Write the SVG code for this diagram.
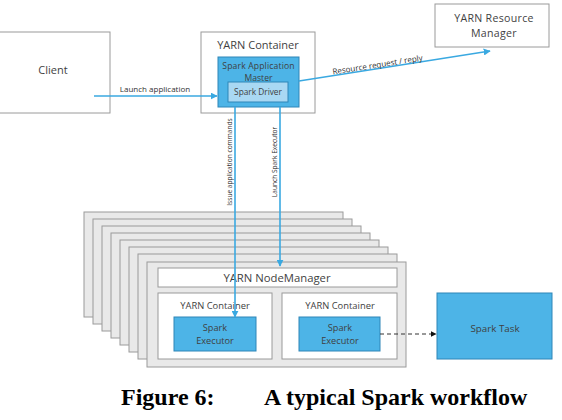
<svg xmlns="http://www.w3.org/2000/svg" width="562" height="420" viewBox="0 0 562 420">
<style>
.box{fill:#fff;stroke:#9a9a9a;stroke-width:1}
.nm{fill:#e9e9e9;stroke:#9a9a9a;stroke-width:1}
.blue{fill:#4db4e7;stroke:#2f86b8;stroke-width:1}
.lblue{fill:#a9d8f3;stroke:#2f86b8;stroke-width:1}
.t{font-family:"Open Sans","Noto Sans",sans-serif;fill:#3f3f3f;text-anchor:middle}
.s{font-family:"Open Sans","Noto Sans",sans-serif;fill:#333;text-anchor:middle}
.c{stroke:#3aa9e1;stroke-width:1.6;fill:none}
.cap{font-family:"Liberation Serif","Times New Roman",serif;font-weight:bold;font-size:24px;fill:#000}
</style>
<defs>
<marker id="ah" viewBox="0 0 10 10" refX="9" refY="5" markerWidth="7" markerHeight="7" markerUnits="userSpaceOnUse" orient="auto"><path d="M0,0L10,5L0,10z" fill="#3aa9e1"/></marker>
<marker id="ahd" viewBox="0 0 10 10" refX="9" refY="5" markerWidth="6" markerHeight="6" markerUnits="userSpaceOnUse" orient="auto"><path d="M0,0L10,5L0,10z" fill="#111"/></marker>
</defs>
<g id="client"><rect class="box" x="-1" y="32" width="111" height="81"/><text class="t" x="53" y="74" font-size="11">Client</text></g>
<g id="yarn-container-top"><rect class="box" x="201" y="32" width="114" height="81"/><text class="t" x="258" y="49" font-size="11">YARN Container</text>
<g id="app-master"><rect class="blue" x="218" y="57" width="81" height="50"/><text class="t" x="258.5" y="69" font-size="8.6" letter-spacing="0.15">Spark Application</text><text class="t" x="258.5" y="80.5" font-size="8.6">Master</text></g>
<g id="driver"><rect class="lblue" x="228" y="82" width="60" height="20"/><text class="t" x="258" y="95" font-size="8.3">Spark Driver</text></g></g>
<g id="resource-manager"><rect class="box" x="435" y="4" width="114" height="43"/><text class="t" x="494" y="22" font-size="10.6" letter-spacing="0.3">YARN Resource</text><text class="t" x="494" y="36.5" font-size="10.6" letter-spacing="0.3">Manager</text></g>
<g id="node-stack">
<rect class="nm" x="84" y="212" width="259" height="105"/>
<rect class="nm" x="93" y="219" width="259" height="105"/>
<rect class="nm" x="102" y="226" width="259" height="105"/>
<rect class="nm" x="111" y="233" width="259" height="105"/>
<rect class="nm" x="120" y="240" width="259" height="105"/>
<rect class="nm" x="129" y="247" width="259" height="105"/>
<rect class="nm" x="138" y="254" width="259" height="105"/>
<rect class="nm" x="147" y="262" width="259" height="105"/>
</g>
<g id="nodemanager"><rect class="box" x="158" y="268" width="239" height="19"/><text class="t" x="277" y="282" font-size="11.3">YARN NodeManager</text></g>
<g id="container-left"><rect class="box" x="158" y="293" width="114" height="66"/><text class="t" x="215" y="309" font-size="9.4">YARN Container</text>
<g id="executor-left"><rect class="blue" x="174" y="317" width="82" height="34"/><text class="t" x="215" y="331" font-size="9.2">Spark</text><text class="t" x="215" y="343.5" font-size="9.2">Executor</text></g></g>
<g id="container-right"><rect class="box" x="282" y="293" width="115" height="66"/><text class="t" x="340" y="309" font-size="9.4">YARN Container</text>
<g id="executor-right"><rect class="blue" x="299" y="317" width="81" height="34"/><text class="t" x="340" y="331" font-size="9.2">Spark</text><text class="t" x="340" y="343.5" font-size="9.2">Executor</text></g></g>
<g id="spark-task"><rect class="blue" x="437" y="293" width="115" height="66"/><text class="t" x="495" y="332" font-size="9.8">Spark Task</text></g>
<g id="connectors">
<line class="c" x1="94" y1="96" x2="217" y2="96" marker-end="url(#ah)"/>
<text class="s" x="155" y="92" font-size="8">Launch application</text>
<line class="c" x1="299" y1="81" x2="490" y2="51" marker-end="url(#ah)"/>
<text class="s" transform="translate(378,67.5) rotate(-8.9)" font-size="8">Resource request / reply</text>
<line class="c" x1="235" y1="107" x2="235" y2="317" marker-end="url(#ah)"/>
<text class="s" transform="translate(232,162) rotate(-90)" font-size="6.6">Issue application commands</text>
<line class="c" x1="280" y1="107" x2="280" y2="266" marker-end="url(#ah)"/>
<text class="s" transform="translate(277,162) rotate(-90)" font-size="6.6">Launch Spark Executor</text>
<line x1="380" y1="334" x2="436" y2="334" stroke="#333" stroke-width="1" stroke-dasharray="4,3" marker-end="url(#ahd)"/>
</g>
<text class="cap" x="121" y="405">Figure 6:</text>
<text class="cap" x="264" y="405">A typical Spark workflow</text>
</svg>
